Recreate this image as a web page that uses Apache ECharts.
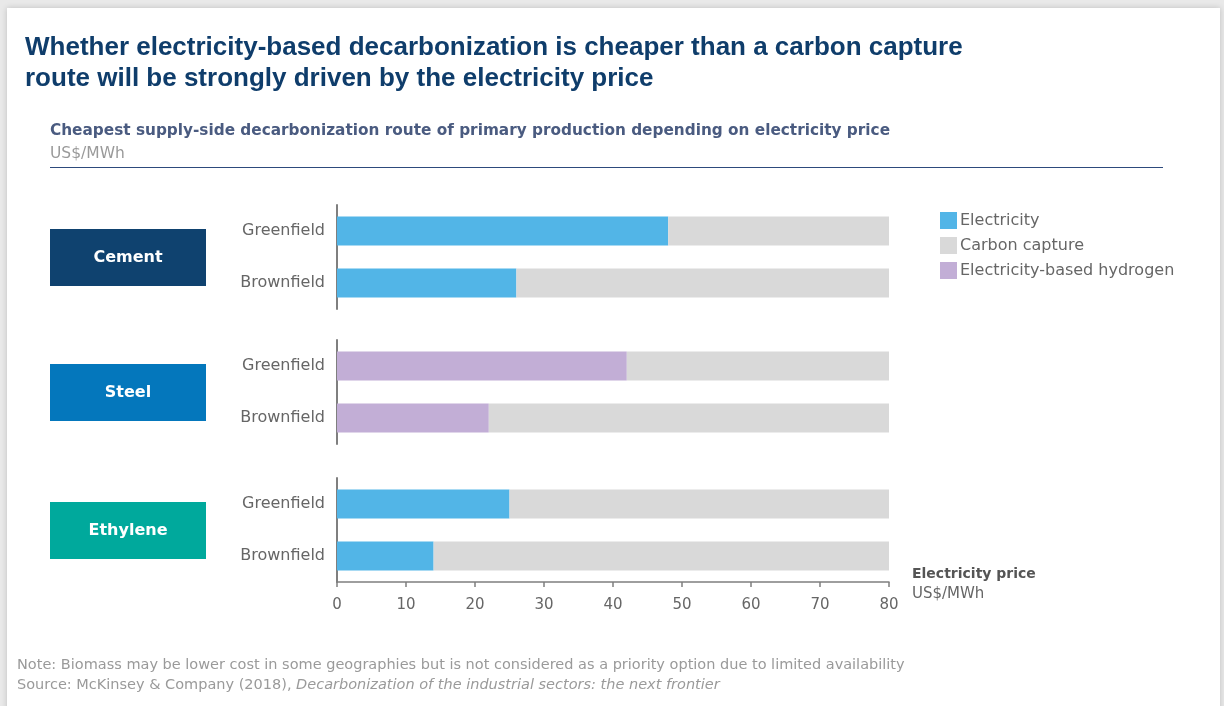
<!DOCTYPE html>
<html>
<head>
<meta charset="utf-8">
<script src="https://cdn.jsdelivr.net/npm/echarts@6/dist/echarts.min.js"></script>
<style>
  html, body { margin: 0; padding: 0; width: 1224px; height: 706px; overflow: hidden; background: #e9e9e9; }
  #card { position: absolute; left: 7px; top: 8px; width: 1213px; height: 720px; background: #fff; box-shadow: 0 0 6px rgba(0,0,0,0.18); }
  #chart { position: absolute; left: 0; top: 0; width: 1224px; height: 706px; }
</style>
</head>
<body>
<div id="card"></div>
<div id="chart"></div>
<script>
// ---- data ----
const sectors = ['Cement', 'Steel', 'Ethylene'];
const sites = ['Greenfield', 'Brownfield'];
const electricPrimary = {               // switch point (US$/MWh) for the electric route
  Cement: [48, 26],
  Steel: [42, 22],
  Ethylene: [25, 14]
};
const carbonCapture = {                 // remaining range up to 80 US$/MWh
  Cement: [32, 54],
  Steel: [38, 58],
  Ethylene: [55, 66]
};
const electricRouteName = ['Electricity', 'Electricity-based hydrogen', 'Electricity'];
const xTicks = [0, 10, 20, 30, 40, 50, 60, 70, 80];

const colors = {
  'Electricity': '#52b5e7',
  'Carbon capture': '#d9d9d9',
  'Electricity-based hydrogen': '#c2aed6'
};
const sectorColors = ['#0f426f', '#0477bc', '#00a99c'];
const FONT = 'DejaVu Sans';
const TFONT = 'Liberation Sans';

const gridTops = [205, 340, 478];
const gridH = 104;

const chart = echarts.init(document.getElementById('chart'), null, { renderer: 'canvas' });

const grids = [], xAxes = [], yAxes = [], series = [], graphics = [];
sectors.forEach((s, i) => {
  grids.push({ left: 337, width: 552, top: gridTops[i], height: gridH, containLabel: false });
  const last = i === sectors.length - 1;
  xAxes.push({
    gridIndex: i, type: 'value', min: xTicks[0], max: xTicks[xTicks.length - 1], interval: 10,
    show: true,
    axisLine: { show: last, lineStyle: { color: '#7f7f7f', width: 1.5 } },
    axisTick: { show: last, length: 5, lineStyle: { color: '#7f7f7f', width: 1.5 } },
    axisLabel: { show: last, color: '#666', fontSize: 15, fontFamily: FONT, margin: 16 },
    splitLine: { show: false }
  });
  yAxes.push({
    gridIndex: i, type: 'category', data: sites, inverse: true,
    axisLine: { show: true, lineStyle: { color: '#7f7f7f', width: 2 } },
    axisTick: { show: false },
    axisLabel: { color: '#666', fontSize: 16, fontFamily: FONT, margin: 12, padding: [5, 0, 0, 0] }
  });
  const en = electricRouteName[i];
  series.push({
    name: en, type: 'bar', xAxisIndex: i, yAxisIndex: i, stack: 'g' + i,
    data: electricPrimary[s], barWidth: 29, itemStyle: { color: colors[en] }, silent: true
  });
  series.push({
    name: 'Carbon capture', type: 'bar', xAxisIndex: i, yAxisIndex: i, stack: 'g' + i,
    data: carbonCapture[s], barWidth: 29, itemStyle: { color: colors['Carbon capture'] }, silent: true
  });
  // sector box
  graphics.push({
    type: 'group', left: 50, top: gridTops[i] + gridH / 2 - 28,
    children: [
      { type: 'rect', shape: { x: 0, y: 0, width: 156, height: 57 }, style: { fill: sectorColors[i] } },
      { type: 'text', x: 78, y: 28.5, style: { text: s, fill: '#fff', font: 'bold 16px "' + FONT + '"', textAlign: 'center', textVerticalAlign: 'middle' } }
    ]
  });
});

// header rule
graphics.push({ type: 'line', shape: { x1: 50, y1: 167.5, x2: 1163, y2: 167.5 }, style: { stroke: '#2d4a7c', lineWidth: 1.2 } });

chart.setOption({
  animation: false,
  textStyle: { fontFamily: FONT },
  title: [
    { text: 'Whether electricity-based decarbonization is cheaper than a carbon capture\nroute will be strongly driven by the electricity price',
      left: 25, top: 32, padding: 0, textStyle: { color: '#0f3d6b', fontSize: 26, fontWeight: 'bold', lineHeight: 31, fontFamily: TFONT } },
    { text: 'Cheapest supply-side decarbonization route of primary production depending on electricity price',
      left: 50, top: 124, padding: 0, textStyle: { color: '#4a5b80', fontSize: 15.3, fontWeight: 'bold', fontFamily: FONT } },
    { text: 'US$/MWh', left: 50, top: 146, padding: 0, textStyle: { color: '#9a9a9a', fontSize: 15.5, fontWeight: 'normal', fontFamily: FONT } },
    { text: 'Electricity price', left: 912, top: 567, padding: 0, textStyle: { color: '#555', fontSize: 14, fontWeight: 'bold', fontFamily: FONT } },
    { text: 'US$/MWh', left: 912, top: 587, padding: 0, textStyle: { color: '#666', fontSize: 15, fontWeight: 'normal', fontFamily: FONT } },
    { text: 'Note: Biomass may be lower cost in some geographies but is not considered as a priority option due to limited availability',
      left: 17, top: 658, padding: 0, textStyle: { color: '#9a9a9a', fontSize: 14.5, fontWeight: 'normal', fontFamily: FONT } },
    { text: 'Source: McKinsey & Company (2018), {i|Decarbonization of the industrial sectors: the next frontier}',
      left: 17, top: 678, padding: 0, textStyle: { color: '#9a9a9a', fontSize: 14.5, fontWeight: 'normal', fontFamily: FONT,
        rich: { i: { fontStyle: 'italic', color: '#9a9a9a', fontSize: 14.5, fontFamily: FONT } } } }
  ],
  legend: {
    data: ['Electricity', 'Carbon capture', 'Electricity-based hydrogen'],
    orient: 'vertical', left: 940, top: 212, padding: 0, itemWidth: 17, itemHeight: 17, itemGap: 8,
    icon: 'rect', selectedMode: false,
    textStyle: { color: '#666', fontSize: 16, fontFamily: FONT, padding: [4, 0, 0, -2] }
  },
  grid: grids,
  xAxis: xAxes,
  yAxis: yAxes,
  series: series,
  graphic: graphics
});
</script>
</body>
</html>
